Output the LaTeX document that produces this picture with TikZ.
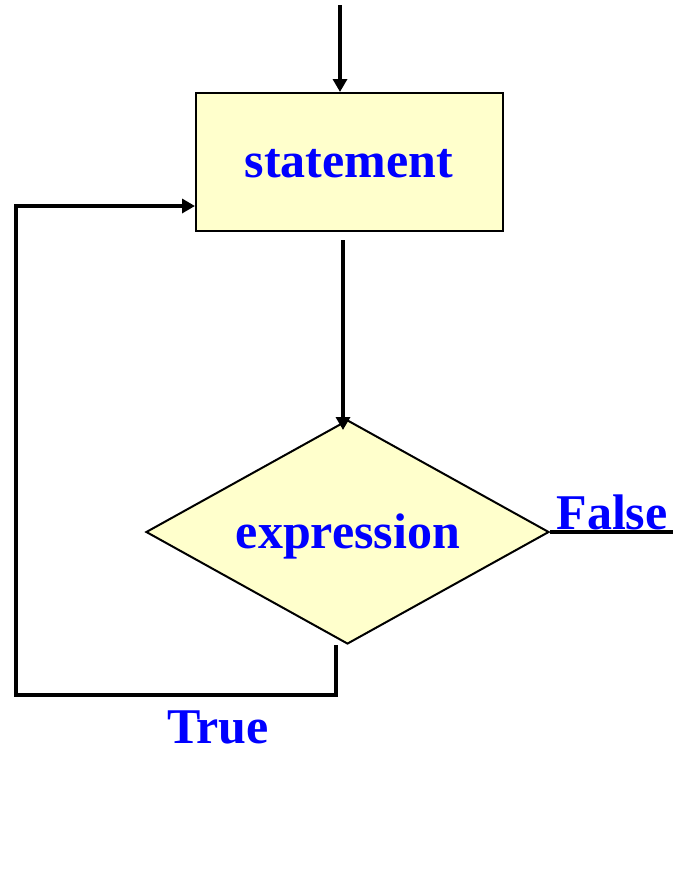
\documentclass[tikz,border=0pt]{standalone}
\usepackage{fontspec}
\setmainfont{Liberation Serif}
\usetikzlibrary{shapes.geometric,arrows.meta,calc}
\definecolor{boxfill}{RGB}{255,255,204}
\definecolor{txtblue}{RGB}{0,0,255}
\begin{document}
\begin{tikzpicture}[x=1pt,y=-1pt,
  lbl/.style={font=\fontsize{50}{60}\selectfont\bfseries, text=txtblue, inner sep=0pt},
  stmtbox/.style={draw=black, line width=2pt, fill=boxfill, minimum width=307pt, minimum height=138pt, inner sep=0pt, anchor=north west},
  decbox/.style={diamond, draw=black, line width=2pt, fill=boxfill, minimum width=403pt, minimum height=224pt, inner sep=0pt, aspect=1.8},
  conn/.style={line width=4pt, line cap=butt},
  arr/.style={conn, -{Triangle[length=13pt,width=14pt]}}
]
\useasboundingbox (0,0) rectangle (673,873);
\node[stmtbox] (stmt) at (195,92) {};
\node[lbl] (stmttxt) at (349,164) {statement};
\node[decbox] (expr) at (347.5,532) {};
\node[lbl] (exprtxt) at (348,536) {expression};
\coordinate (top) at (340,5);
\coordinate (falseend) at (673,532);
\coordinate (tb) at (336,695);
\coordinate (tl) at (16,695);
\coordinate (tu) at (16,206);
\draw[arr] (top) -- (340,92);
\draw[arr] (343,240) -- (343,430);
\draw[conn] (expr.east) -- (falseend);
\draw[arr] (336,645) -- (tb) -- (tl) -- (tu) -- (stmt.west |- tu);
\node[lbl] (falsetxt) at (612,512) {False};
\node[lbl] (truetxt) at (218,727) {True};
\end{tikzpicture}
\end{document}
